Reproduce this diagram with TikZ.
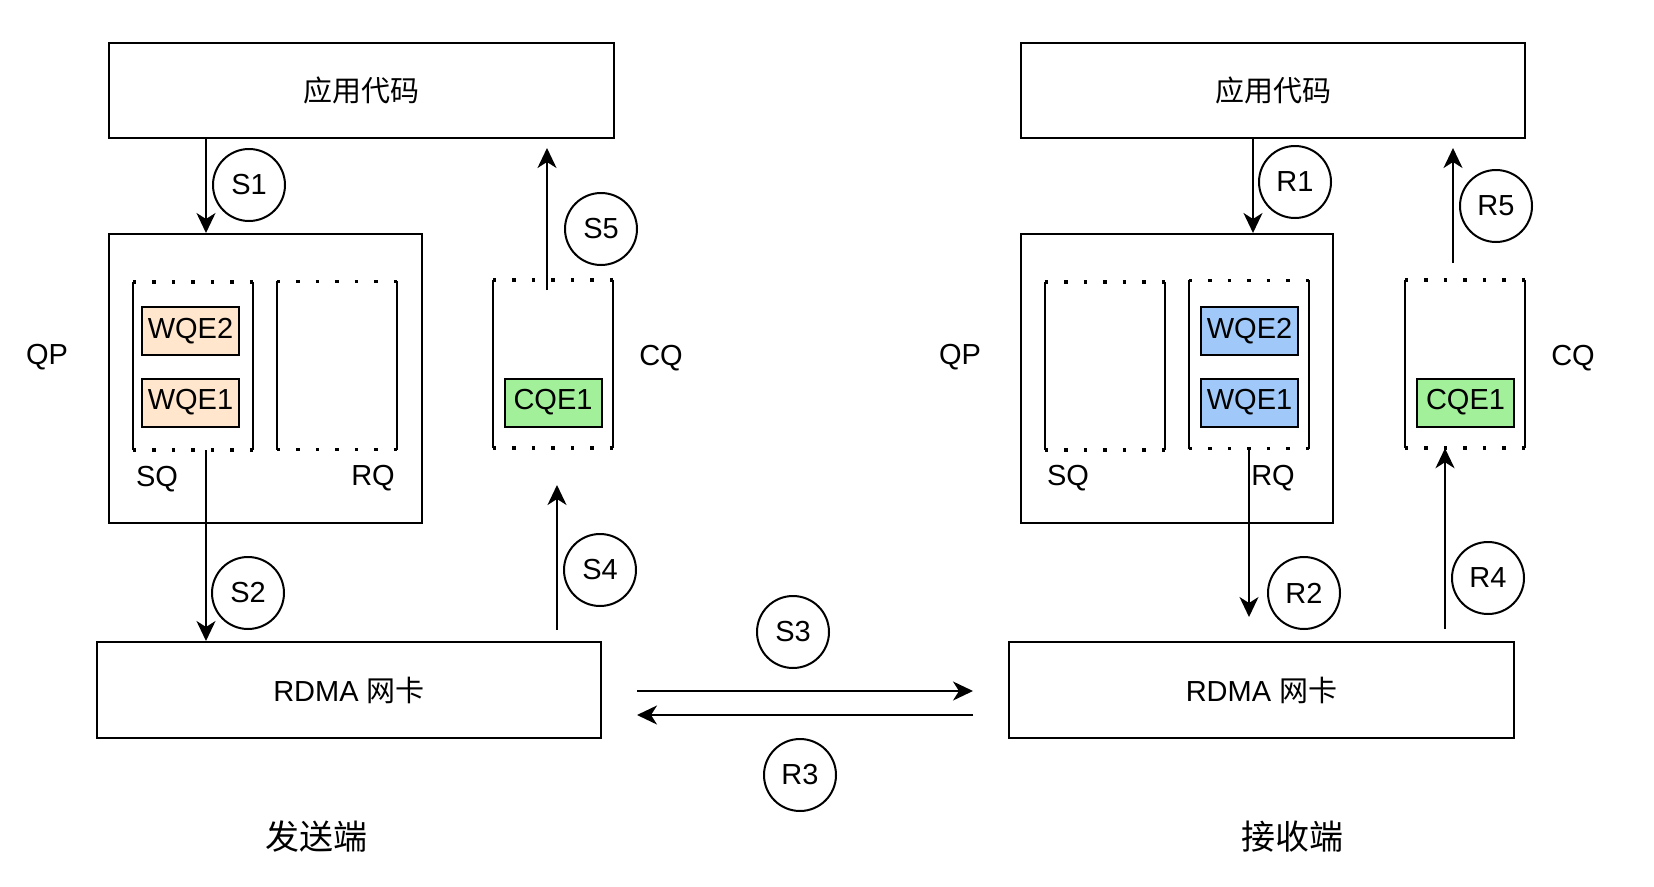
\documentclass[tikz,border=0pt]{standalone}
\usepackage{fontspec}
\setmainfont{Liberation Sans}
\newfontfamily\cjk{Noto Sans CJK SC}
\usetikzlibrary{arrows.meta}
\definecolor{wqeorange}{HTML}{FFE6CC}
\definecolor{wqeblue}{HTML}{A0C8F8}
\definecolor{cqegreen}{HTML}{A3F09B}
\begin{document}
\begin{tikzpicture}[x=1pt,y=-1pt,
  every node/.style={font=\fontsize{29}{34}\selectfont},
  box/.style={draw, line width=2pt, inner sep=0pt},
  item/.style={draw, line width=2pt, inner sep=0pt, minimum width=97pt, minimum height=48pt},
  queue/.style={inner sep=0pt, minimum width=120pt, minimum height=168pt},
  sideline/.style={line width=2.5pt},
  dotline/.style={line width=3.5pt, dash pattern=on 3.5pt off 16pt},
  stepcircle/.style={draw, circle, line width=2pt, minimum size=72pt, inner sep=0pt},
  lbl/.style={inner sep=0pt},
  arr/.style={line width=2pt, -{Stealth[length=20pt, width=19pt, inset=6pt]}}
]
\useasboundingbox (0,0) rectangle (1654,886);

% ---------------- sender ----------------
\node[box, minimum width=505pt, minimum height=95pt] (app1) at (361.5,90.5) {\cjk 应用代码};
\node[box, minimum width=313pt, minimum height=289pt] (qp1) at (265.5,378.5) {};
\node[box, minimum width=504pt, minimum height=96pt] (nic1) at (349,690) {RDMA \cjk 网卡};

\node[queue] (sq1) at (193,366) {};
\node[queue] (rq1) at (337,365.5) {};
\node[queue] (cq1) at (553,364) {};

\node[item, fill=wqeorange] (w12) at (190.5,331) {WQE2};
\node[item, fill=wqeorange] (w11) at (190.5,402.5) {WQE1};
\node[item, fill=cqegreen] (c11) at (553,402.5) {CQE1};

\node[lbl] (qpl1) at (47,357) {QP};
\node[lbl] (sql1) at (157,479) {SQ};
\node[lbl] (rql1) at (373,478) {RQ};
\node[lbl] (cql1) at (661,358) {CQ};
\node[lbl, font=\fontsize{34}{40}\selectfont\cjk] (side1) at (316,837) {发送端};

% ---------------- receiver ----------------
\node[box, minimum width=504pt, minimum height=95pt] (app2) at (1273,90.5) {\cjk 应用代码};
\node[box, minimum width=312pt, minimum height=289pt] (qp2) at (1177,378.5) {};
\node[box, minimum width=505pt, minimum height=96pt] (nic2) at (1261.5,690) {RDMA \cjk 网卡};

\node[queue] (sq2) at (1105,366) {};
\node[queue] (rq2) at (1249,364.5) {};
\node[queue] (cq2) at (1465,364) {};

\node[item, fill=wqeblue] (w22) at (1249.5,331) {WQE2};
\node[item, fill=wqeblue] (w21) at (1249.5,402.5) {WQE1};
\node[item, fill=cqegreen] (c21) at (1465.5,402.5) {CQE1};

\node[lbl] (qpl2) at (960,357) {QP};
\node[lbl] (sql2) at (1068,478) {SQ};
\node[lbl] (rql2) at (1273,478) {RQ};
\node[lbl] (cql2) at (1573,358) {CQ};
\node[lbl, font=\fontsize{34}{40}\selectfont\cjk] (side2) at (1292,837) {接收端};

% queue outlines: solid sides, dotted top and bottom
\foreach \q in {sq1,rq1,cq1,sq2,rq2,cq2}{
  \draw[sideline] (\q.north west) -- (\q.south west) (\q.north east) -- (\q.south east);
  \draw[dotline] (\q.north west) -- (\q.north east) (\q.south west) -- (\q.south east);
}

% ---------------- step circles ----------------
\node[stepcircle] (s1) at (249,185) {S1};
\node[stepcircle] (s2) at (248,593) {S2};
\node[stepcircle] (s3) at (793,632) {S3};
\node[stepcircle] (s4) at (600,570) {S4};
\node[stepcircle] (s5) at (601,229) {S5};
\node[stepcircle] (r1) at (1295,182) {R1};
\node[stepcircle] (r2) at (1304,593) {R2};
\node[stepcircle] (r3) at (800,775) {R3};
\node[stepcircle] (r4) at (1488,578) {R4};
\node[stepcircle] (r5) at (1496,206) {R5};

% ---------------- connector end points ----------------
\coordinate (xs1) at (206,0);
\coordinate (s5a) at (547,290);
\coordinate (s5b) at (547,148);
\coordinate (s4a) at (557,630);
\coordinate (s4b) at (557,485);
\coordinate (xr1) at (1253,0);
\coordinate (xr2) at (1249,0);
\coordinate (r2b) at (1249,617);
\coordinate (r5a) at (1453,263);
\coordinate (r5b) at (1453,148);
\coordinate (r4a) at (1445,629);
\coordinate (s3a) at (637,691);
\coordinate (s3b) at (973,691);
\coordinate (r3a) at (973,715);
\coordinate (r3b) at (637,715);

% ---------------- connectors ----------------
\draw[arr] (app1.south -| xs1) -- (qp1.north -| xs1);
\draw[arr] (sq1.south -| xs1) -- (nic1.north -| xs1);
\draw[arr] (s5a) -- (s5b);
\draw[arr] (s4a) -- (s4b);
\draw[arr] (s3a) -- (s3b);
\draw[arr] (r3a) -- (r3b);
\draw[arr] (app2.south -| xr1) -- (qp2.north -| xr1);
\draw[arr] (rq2.south -| xr2) -- (r2b);
\draw[arr] (r4a) -- (cq2.south -| r4a);
\draw[arr] (r5a) -- (r5b);
\end{tikzpicture}
\end{document}
